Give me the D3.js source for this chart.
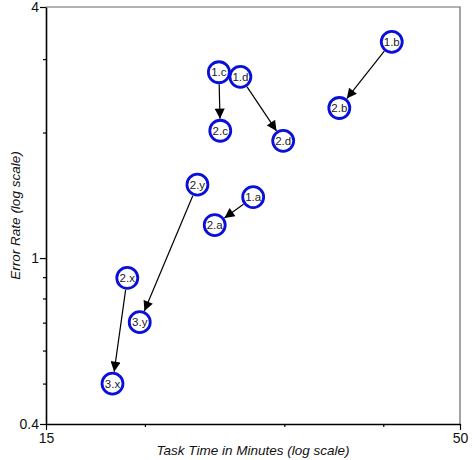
<!DOCTYPE html>
<html>
<head>
<meta charset="utf-8">
<script src="https://cdn.jsdelivr.net/npm/d3@7"></script>
<style>
  html, body { margin: 0; padding: 0; background: #fff; }
  svg { display: block; font-family: "Liberation Sans", Arial, sans-serif; }
</style>
</head>
<body>
<svg id="chart" width="474" height="460"></svg>
<script>
// ---- data ----
const pointLabels = ["1.a", "2.a", "1.b", "2.b", "1.c", "2.c", "1.d", "2.d", "2.x", "3.x", "2.y", "3.y"];
const taskTime    = [27.4, 24.5, 41.0, 35.2, 24.8, 24.9, 26.4, 29.9, 19.0, 18.2, 23.3, 19.7];
const errorRate   = [1.40, 1.20, 3.30, 2.29, 2.79, 2.02, 2.72, 1.91, 0.896, 0.50, 1.50, 0.702];
const arrowFrom   = ["1.a", "1.b", "1.c", "1.d", "2.x", "2.y"];
const arrowTo     = ["2.a", "2.b", "2.c", "2.d", "3.x", "3.y"];
const xTicks      = [15, 20, 30, 40, 50];
const xTickLabels = ["15", "", "", "", "50"];
const yTicks      = [0.4, 0.5, 0.6, 0.7, 0.8, 0.9, 1, 2, 3, 4];
const yTickLabels = ["0.4", "", "", "", "", "", "1", "", "", "4"];
const xTitle = "Task Time in Minutes (log scale)";
const yTitle = "Error Rate (log scale)";

// ---- layout ----
const L = 46, R = 460, T = 7, B = 424;
const svg = d3.select("#chart");
const x = d3.scaleLog().domain([15, 50]).range([L, R]);
const y = d3.scaleLog().domain([0.4, 4]).range([B, T]);

// frame (top/right)
svg.append("path")
  .attr("d", `M${L},${T}H${R}V${B}`)
  .attr("fill", "none").attr("stroke", "#666").attr("stroke-width", 1.2);

// axes
const xAxis = d3.axisBottom(x).tickValues(xTicks)
  .tickFormat((d, i) => xTickLabels[i]).tickSizeOuter(0);
const gx = svg.append("g").attr("transform", `translate(0,${B})`).call(xAxis);
gx.selectAll(".tick line").attr("y2", (d, i) => xTickLabels[i] ? 6 : 3);

const yAxis = d3.axisLeft(y).tickValues(yTicks)
  .tickFormat((d, i) => yTickLabels[i]).tickSizeOuter(0);
const gy = svg.append("g").attr("transform", `translate(${L},0)`).call(yAxis);
gy.selectAll(".tick line").attr("x2", (d, i) => yTickLabels[i] ? -6 : -3);

[gx, gy].forEach(g => {
  g.select(".domain").attr("stroke", "#000").attr("stroke-width", 1.6);
  g.selectAll(".tick line").attr("stroke", "#000").attr("stroke-width", 1.2);
  g.selectAll(".tick text").attr("font-size", 14).attr("fill", "#111")
    .attr("font-family", "Liberation Sans, Arial, sans-serif");
});
gx.selectAll(".tick text").attr("y", 9);
gy.selectAll(".tick text").attr("x", -7);

// titles
svg.append("text")
  .attr("x", (L + R) / 2).attr("y", 455)
  .attr("text-anchor", "middle").attr("font-style", "italic")
  .attr("font-size", 13.5).attr("fill", "#111").text(xTitle);
svg.append("text")
  .attr("transform", `translate(20,${(T + B) / 2}) rotate(-90)`)
  .attr("text-anchor", "middle").attr("font-style", "italic")
  .attr("font-size", 13.5).attr("fill", "#111").text(yTitle);

// arrow marker
svg.append("defs").append("marker")
  .attr("id", "arrow").attr("viewBox", "0 0 10 10")
  .attr("refX", 10).attr("refY", 5)
  .attr("markerWidth", 11).attr("markerHeight", 10)
  .attr("markerUnits", "userSpaceOnUse")
  .attr("orient", "auto")
  .append("path").attr("d", "M0,0L10,5L0,10Z").attr("fill", "#000");

const pos = {};
pointLabels.forEach((lab, i) => { pos[lab] = [x(taskTime[i]), y(errorRate[i])]; });
const rOuter = 12;

arrowFrom.forEach((f, i) => {
  const [x1, y1] = pos[f];
  const [x2, y2] = pos[arrowTo[i]];
  const dx = x2 - x1, dy = y2 - y1, len = Math.hypot(dx, dy);
  const ux = dx / len, uy = dy / len;
  svg.append("line")
    .attr("x1", x1 + ux * rOuter).attr("y1", y1 + uy * rOuter)
    .attr("x2", x2 - ux * rOuter).attr("y2", y2 - uy * rOuter)
    .attr("stroke", "#000").attr("stroke-width", 1.2)
    .attr("marker-end", "url(#arrow)");
});

// points
const order = ["1.a", "2.a", "1.b", "2.b", "2.c", "2.d", "1.c", "1.d", "2.x", "3.x", "2.y", "3.y"];
const g = svg.selectAll("g.pt").data(order).join("g").attr("class", "pt")
  .attr("transform", d => `translate(${pos[d][0]},${pos[d][1]})`);
g.append("circle").attr("r", 10.5).attr("fill", "#fff")
  .attr("stroke", "#0a10d8").attr("stroke-width", 2.8);
g.append("text").attr("text-anchor", "middle").attr("dy", "0.36em")
  .attr("font-size", 11.5).attr("fill", "#222").text(d => d);
</script>
</body>
</html>
